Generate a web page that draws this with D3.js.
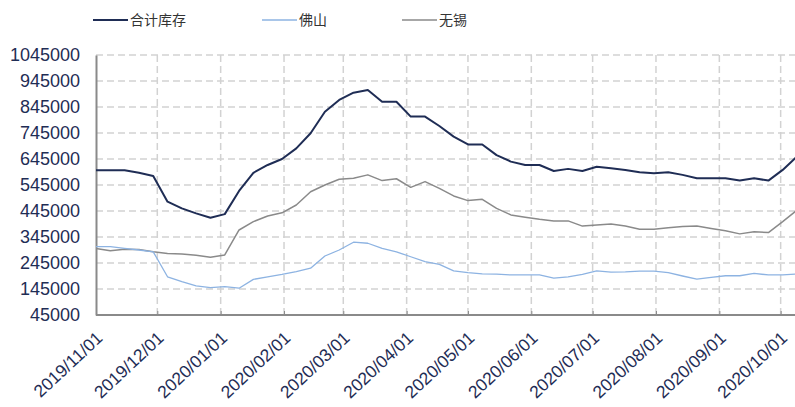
<!DOCTYPE html>
<html>
<head>
<meta charset="utf-8">
<script src="https://cdn.jsdelivr.net/npm/d3@7"></script>
<style>
  html, body { margin: 0; padding: 0; background: #fff; }
  svg { display: block; }
</style>
</head>
<body>
<div id="chart"></div>
<script>
// Weekly inventory series, starting 2019/11/01
const startDate = "2019-11-01";
const weeks = 50;
const seriesNames = ["合计库存", "佛山", "无锡"];

const totalStock = [
  602000, 602000, 602000, 592000, 580000, 481000, 455000, 436000, 419000, 433000,
  522000, 592000, 622000, 645000, 686000, 744000, 827000, 872000, 900000, 910000,
  865000, 865000, 808000, 808000, 772000, 731000, 701000, 701000, 660000, 635000,
  622000, 622000, 599000, 607000, 599000, 615000, 609000, 603000, 594000, 590000,
  594000, 584000, 571000, 571000, 571000, 562000, 571000, 562000, 603000, 655000
];
const foshan = [
  308000, 308000, 301000, 295000, 288000, 192000, 173000, 157000, 150000, 154000,
  148000, 182000, 192000, 201000, 212000, 225000, 272000, 295000, 325000, 321000,
  301000, 288000, 269000, 250000, 240000, 215000, 208000, 203000, 202000, 199000,
  199000, 199000, 187000, 192000, 201000, 215000, 210000, 211000, 214000, 214000,
  208000, 195000, 183000, 190000, 196000, 196000, 205000, 199000, 199000, 203000
];
const wuxi = [
  301000, 292000, 298000, 297000, 288000, 282000, 280000, 275000, 267000, 276000,
  372000, 404000, 426000, 438000, 468000, 519000, 545000, 567000, 571000, 584000,
  562000, 569000, 536000, 558000, 532000, 503000, 485000, 490000, 455000, 430000,
  421000, 413000, 407000, 407000, 387000, 391000, 395000, 387000, 375000, 375000,
  381000, 385000, 387000, 378000, 369000, 357000, 365000, 362000, 404000, 448000
];

const yTicks = [45000, 145000, 245000, 345000, 445000, 545000, 645000, 745000, 845000, 945000, 1045000];
const xTickLabels = [
  "2019/11/01", "2019/12/01", "2020/01/01", "2020/02/01", "2020/03/01", "2020/04/01",
  "2020/05/01", "2020/06/01", "2020/07/01", "2020/08/01", "2020/09/01", "2020/10/01"
];
const colors = ["#1f2d55", "#8db3e2", "#8a8a8a"];

const W = 795, H = 407;
const parse = d3.timeParse("%Y-%m-%d");
const parseTick = d3.timeParse("%Y/%m/%d");
const fmtTick = d3.timeFormat("%Y/%m/%d");

const t0 = parse(startDate);
const dates = d3.range(weeks).map(i => d3.timeDay.offset(t0, 7 * i));

const x = d3.scaleTime()
  .domain([t0, dates[dates.length - 1]])
  .range([96, 797]);
const y = d3.scaleLinear()
  .domain([45000, 1045000])
  .range([315, 55]);

const svg = d3.select("#chart").append("svg")
  .attr("width", W).attr("height", H)
  .style("font-family", "'Liberation Sans', Arial, sans-serif");

svg.append("clipPath").attr("id", "plotclip")
  .append("rect").attr("x", 95).attr("y", 40).attr("width", W - 95).attr("height", 280);

// dashed grid
const grid = svg.append("g");
grid.selectAll("line.h").data(yTicks.slice(1)).join("line")
  .attr("x1", 96).attr("x2", W)
  .attr("y1", d => y(d)).attr("y2", d => y(d))
  .attr("stroke", "#d2d2d2").attr("stroke-width", 1.5).attr("stroke-dasharray", "7,4");
const tickDates = xTickLabels.map(parseTick);
grid.selectAll("line.v").data(tickDates.slice(1)).join("line")
  .attr("x1", d => x(d)).attr("x2", d => x(d))
  .attr("y1", y(1045000)).attr("y2", 315)
  .attr("stroke", "#d2d2d2").attr("stroke-width", 1.5).attr("stroke-dasharray", "7,4");

// axes
const yAxis = svg.append("g")
  .attr("transform", "translate(96,0)")
  .call(d3.axisLeft(y).tickValues(yTicks).tickSize(0).tickPadding(16).tickFormat(d3.format("d")));
yAxis.select(".domain").attr("stroke", "#8a8a8a").attr("stroke-width", 2);
yAxis.selectAll("text").attr("fill", "#1f2d55").style("font-size", "18px");

const xAxis = svg.append("g")
  .attr("transform", "translate(0,315)")
  .call(d3.axisBottom(x).tickValues(tickDates).tickSize(-4).tickFormat(fmtTick));
xAxis.select(".domain").attr("stroke", "#8a8a8a").attr("stroke-width", 2).attr("d", `M96,0H${W}`);
xAxis.selectAll(".tick line").attr("stroke", "#8a8a8a");
xAxis.selectAll("text")
  .attr("fill", "#1f2d55").style("font-size", "17.5px")
  .attr("text-anchor", "end")
  .attr("transform", "translate(3,20) rotate(-43)")
  .attr("dy", "0.35em").attr("y", 0);

// series lines
const seriesData = [totalStock, foshan, wuxi];
const widths = [2, 1.3, 1.5];
const line = d3.line().x((d, i) => x(dates[i])).y(d => y(d));
const lines = svg.append("g").attr("clip-path", "url(#plotclip)");
[2, 1, 0].forEach(k => {
  lines.append("path")
    .datum(seriesData[k])
    .attr("d", line)
    .attr("fill", "none")
    .attr("stroke", colors[k])
    .attr("stroke-width", widths[k])
    .attr("stroke-linejoin", "round");
});

// legend
const legendX = [93, 262, 402];
const legend = svg.append("g");
seriesNames.forEach((name, k) => {
  const g = legend.append("g").attr("transform", `translate(${legendX[k]},20)`);
  g.append("line").attr("x1", 0).attr("x2", 35).attr("y1", 0).attr("y2", 0)
    .attr("stroke", colors[k]).attr("stroke-width", k === 0 ? 2 : 1.5);
  g.append("text").attr("x", 37).attr("y", 0).attr("dy", "0.35em")
    .attr("fill", "#333")
    .style("font-family", "'Noto Sans CJK SC', sans-serif")
    .style("font-size", "14px")
    .text(name);
});
</script>
</body>
</html>
